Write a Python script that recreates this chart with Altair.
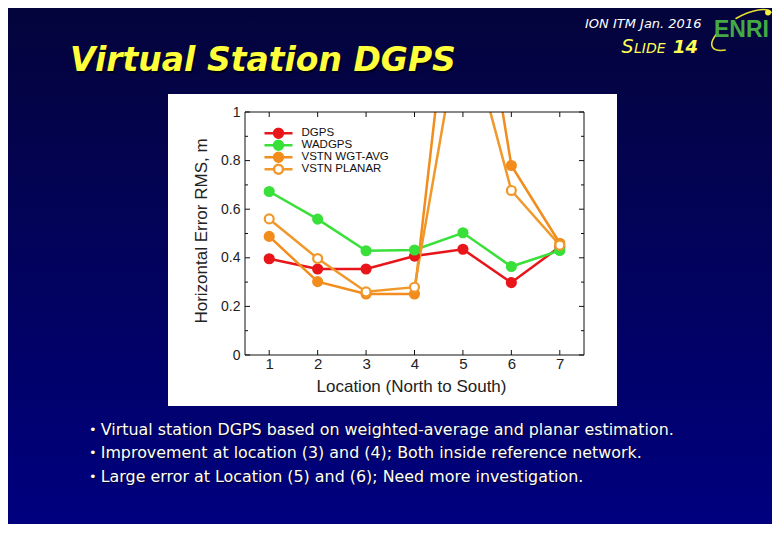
import altair as alt
import pandas as pd

# ---------------- data ----------------
locations = [1, 2, 3, 4, 5, 6, 7]
series_names = ["DGPS", "WADGPS", "VSTN WGT-AVG", "VSTN PLANAR"]
dgps = [0.396, 0.354, 0.354, 0.407, 0.435, 0.298, 0.445]
wadgps = [0.673, 0.559, 0.429, 0.432, 0.503, 0.364, 0.430]
vstn_wgt_avg = [0.488, 0.302, 0.251, 0.251, 2.00, 0.780, 0.460]
vstn_planar = [0.560, 0.397, 0.260, 0.279, 1.42, 0.677, 0.452]

y_major = [0, 0.2, 0.4, 0.6, 0.8, 1.0]
y_minor = [0.1, 0.3, 0.5, 0.7, 0.9]
x_ticks = locations

slide_title = "Virtual Station DGPS"
header_text = "ION ITM Jan. 2016"
slide_word_first = "S"
slide_word_rest = "LIDE"
slide_number = "14"
logo_text = "ENRI"
x_title = "Location (North to South)"
y_title = "Horizontal Error RMS, m"
bullets = [
    "Virtual station DGPS based on weighted-average and planar estimation.",
    "Improvement at location (3) and (4); Both inside reference network.",
    "Large error at Location (5) and (6); Need more investigation.",
]

stroke_colors = ["#e8161a", "#3ae03a", "#f28c1c", "#f0982a"]
fill_colors = ["#e8161a", "#3ae03a", "#f28c1c", "#ffffff"]

# ---------------- table ----------------
rows = []
for name, vals in zip(series_names, [dgps, wadgps, vstn_wgt_avg, vstn_planar]):
    for loc, v in zip(locations, vals):
        rows.append({"loc": loc, "val": v, "series": name})
df = pd.DataFrame(rows)
dummy = pd.DataFrame({"d": [0]})

W, H = 339, 243
PAD_L, PAD_T = 237, 104
TOTAL_W, TOTAL_H = 764, 516

xs = alt.Scale(domain=[0.5, 7.5], nice=False, zero=False)
ys = alt.Scale(domain=[0, 1], nice=False, zero=False)

CHART_FONT = "Liberation Sans"
SLIDE_FONT = "DejaVu Sans"

legend_path = ("M-1,0L-0.32,0M0.32,0L1,0M0.32,0A0.32,0.32,0,1,1,-0.32,0"
               "A0.32,0.32,0,1,1,0.32,0Z")
leg = alt.Legend(
    title=None, orient="none", legendX=18, legendY=15.3,
    symbolType=legend_path, symbolSize=784, symbolStrokeWidth=2.5,
    symbolOpacity=1, labelFont=CHART_FONT, labelFontSize=11.5,
    labelColor="#111111", labelOffset=7.5, padding=0, rowPadding=0,
    clipHeight=12,
)
stroke_scale = alt.Scale(domain=series_names, range=stroke_colors)
fill_scale = alt.Scale(domain=series_names, range=fill_colors)

# ---------------- background ----------------
bg = alt.Chart(dummy).mark_rect(
    fill=alt.LinearGradient(
        gradient="linear", x1=0, y1=0, x2=0, y2=1,
        stops=[alt.GradientStop(color="#04043c", offset=0),
               alt.GradientStop(color="#00007f", offset=1)],
    )
).encode(x=alt.value(-PAD_L), x2=alt.value(TOTAL_W - PAD_L),
         y=alt.value(-PAD_T), y2=alt.value(TOTAL_H - PAD_T))

panel = alt.Chart(dummy).mark_rect(fill="#ffffff").encode(
    x=alt.value(-77), x2=alt.value(372), y=alt.value(-18), y2=alt.value(294))

# ---------------- axes ----------------
x_axis = alt.Axis(
    values=x_ticks, format="d", title=x_title, titleFont=CHART_FONT,
    titleFontSize=17, titleFontWeight="normal", titleColor="#222222",
    titleX=166, titleY=31, titleBaseline="middle",
    labelFont=CHART_FONT, labelFontSize=15, labelColor="#222222",
    labelPadding=1, ticks=False, tickSize=0, domain=False, grid=False,
    zindex=2)
y_axis = alt.Axis(
    values=y_major, format=".1~f", title=y_title, titleFont=CHART_FONT,
    titleFontSize=17, titleFontWeight="normal", titleColor="#222222",
    titleX=-44, titleY=118.5, titleBaseline="middle", titleAngle=270,
    labelFont=CHART_FONT, labelFontSize=14, labelColor="#222222",
    labelPadding=5, ticks=False, tickSize=0, domain=False, grid=False,
    zindex=2)

X = alt.X("loc:Q", scale=xs, axis=x_axis, title=x_title)
Y = alt.Y("val:Q", scale=ys, axis=y_axis, title=y_title)

# ---------------- data layers ----------------
lines = alt.Chart(df).mark_line(strokeWidth=2.5, clip=True).encode(
    x=X, y=Y,
    stroke=alt.Stroke("series:N", scale=stroke_scale, legend=leg),
)
points = alt.Chart(df).mark_point(
    filled=True, size=80, strokeWidth=2.2, opacity=1, clip=True
).encode(
    x=X, y=Y,
    stroke=alt.Stroke("series:N", scale=stroke_scale, legend=leg),
    fill=alt.Fill("series:N", scale=fill_scale, legend=leg),
)

# ---------------- inward ticks + frame ----------------
def yrule(vals, x0, x1):
    return alt.Chart(pd.DataFrame({"val": vals})).mark_rule(
        color="#111111", strokeWidth=1).encode(
        y=Y, x=alt.value(x0), x2=alt.value(x1))

def xrule(vals, y0, y1):
    return alt.Chart(pd.DataFrame({"loc": vals})).mark_rule(
        color="#111111", strokeWidth=1).encode(
        x=X, y=alt.value(y0), y2=alt.value(y1))

ticks = [
    yrule(y_major, 0, 5), yrule(y_minor, 0, 3),
    yrule(y_major, W - 5, W), yrule(y_minor, W - 3, W),
    xrule(x_ticks, H - 5, H), xrule(x_ticks, 0, 5),
]
frame = alt.Chart(dummy).mark_rect(
    fillOpacity=0, stroke="#111111", strokeWidth=1).encode(
    x=alt.value(0), x2=alt.value(W), y=alt.value(0), y2=alt.value(H))

# ---------------- slide texts ----------------
def txt(text, x, y, size, color, font=SLIDE_FONT, weight="normal",
        style="normal", align="left"):
    return alt.Chart(dummy).mark_text(
        font=font, fontSize=size, fontWeight=weight, fontStyle=style,
        color=color, align=align, baseline="alphabetic").encode(
        x=alt.value(x), y=alt.value(y), text=alt.value(text))

texts = [
    txt(slide_title, -173.5, -39.5, 33, "#000014", weight="bold", style="italic"),
    txt(slide_title, -175, -41, 33, "#ffff3c", weight="bold", style="italic"),
    txt(header_text, 340, -84, 13, "#ffffff", style="italic"),
    txt(slide_word_first, 376.5, -59.3, 19, "#ffff55", style="italic"),
    txt(slide_word_rest, 389, -59.3, 14, "#ffff55", style="italic"),
    txt(slide_number, 428, -59.3, 18, "#ffff55", weight="bold", style="italic"),
    txt(logo_text, 469, -75, 23, "#44a844", font=CHART_FONT, weight="bold"),
]
for i, b in enumerate(bullets):
    yb = 322.5 + i * 23.5
    texts.append(txt("\u2022", -155, yb, 13, "#000020"))
    texts.append(txt("\u2022", -156, yb - 1, 13, "#ffffff"))
    texts.append(txt(b, -143.3, yb + 1, 15.9, "#000020"))
    texts.append(txt(b, -144.3, yb, 15.9, "#ffffff"))

arc_path = "M-16.2,20A34,13,-30,0,1,-25.4,4M-6.5,-11.3A34,13,-30,0,1,29.4,-17"
logo_arc = alt.Chart(dummy).mark_point(
    shape=arc_path, size=4, filled=False, stroke="#e8e030", strokeWidth=1.6,
    opacity=1).encode(x=alt.value(497), y=alt.value(-82))
logo_dot = alt.Chart(dummy).mark_point(
    shape="circle", size=34, filled=True, color="#f4f040", opacity=1).encode(
    x=alt.value(523), y=alt.value(-99.5))

chart = alt.layer(
    bg, panel, lines, points, *ticks, frame, logo_arc, logo_dot, *texts
).properties(
    width=W, height=H,
    autosize=alt.AutoSizeParams(type="none"),
    padding={"left": PAD_L, "top": PAD_T,
             "right": TOTAL_W - PAD_L - W, "bottom": TOTAL_H - PAD_T - H},
    background="#02025c",
).configure_view(stroke="transparent")

chart.save("out.html", embed_options={"renderer": "svg", "actions": False})
